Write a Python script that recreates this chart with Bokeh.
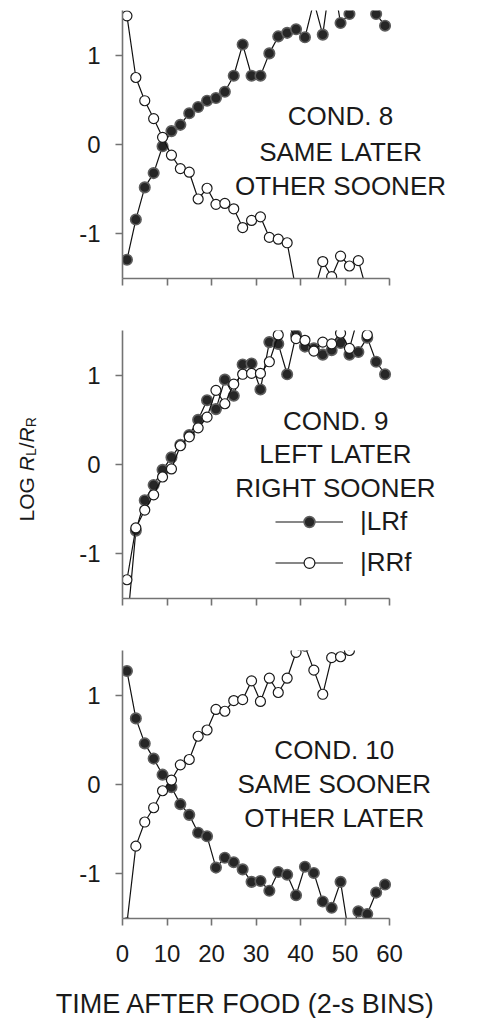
import math
from bokeh.plotting import figure
from bokeh.layouts import column, row
from bokeh.models import Range1d, FixedTicker, Label, Legend, LegendItem
from bokeh.embed import file_html
from bokeh.resources import INLINE

nan = float("nan")

# ---------------- data (log RL/RR per 2-s bin) ----------------
time_bins = [1, 3, 5, 7, 9, 11, 13, 15, 17, 19, 21, 23, 25, 27, 29,
             31, 33, 35, 37, 39, 41, 43, 45, 47, 49, 51, 53, 55, 57, 59]

cond8_lrf = [-1.29, -0.84, -0.48, -0.32, -0.02, 0.15, 0.22, 0.35, 0.42, 0.49,
             0.52, 0.59, 0.77, 1.12, 0.77, 0.77, 1.02, 1.21, 1.25, 1.29,
             1.20, 1.60, 1.23, 1.95, 1.36, 1.46, nan, nan, 1.46, 1.33]
cond8_rrf = [1.44, 0.75, 0.49, 0.29, 0.08, -0.12, -0.27, -0.31, -0.61, -0.49,
             -0.67, -0.66, -0.72, -0.93, -0.85, -0.81, -1.04, -1.06, -1.10, -1.63,
             nan, -1.66, -1.31, -1.48, -1.25, -1.36, -1.30, -1.66, nan, nan]

cond9_lrf = [-1.83, -0.74, -0.40, -0.23, -0.06, 0.08, 0.22, 0.33, 0.50, 0.72,
             0.62, 0.95, 0.77, 1.12, 1.13, 0.84, 1.37, 1.35, 1.01, 1.45,
             1.32, 1.30, 1.23, 1.28, 1.36, 1.23, 1.26, 1.42, 1.15, 1.01]
cond9_rrf = [-1.29, -0.71, -0.51, -0.34, -0.14, -0.05, 0.21, 0.31, 0.41, 0.53,
             0.83, 0.68, 0.90, 1.01, 1.02, 1.02, 1.15, 1.45, 1.58, 1.41,
             1.39, 1.27, 1.37, 1.35, 1.47, 1.30, 1.66, 1.45, nan, nan]

cond10_lrf = [1.27, 0.74, 0.46, 0.29, 0.11, -0.03, -0.22, -0.34, -0.54, -0.58,
              -0.93, -0.82, -0.87, -0.95, -1.09, -1.08, -1.19, -0.98, -1.01, -1.24,
              -0.92, -0.99, -1.31, -1.38, -1.09, -1.72, -1.42, -1.45, -1.21, -1.12]
cond10_rrf = [-1.55, -0.69, -0.42, -0.26, -0.07, 0.05, 0.22, 0.28, 0.54, 0.61,
              0.84, 0.82, 0.94, 0.95, 1.16, 0.93, 1.19, 1.03, 1.19, 1.48,
              1.55, 1.28, 1.01, 1.42, 1.43, 1.50, nan, nan, nan, nan]

panel_texts = [["COND. 8", "SAME LATER", "OTHER SOONER"],
               ["COND. 9", "LEFT LATER", "RIGHT SOONER"],
               ["COND. 10", "SAME SOONER", "OTHER LATER"]]

x_ticks = [0, 10, 20, 30, 40, 50, 60]
y_ticks = [-1, 0, 1]
y_tick_labels = {-1: "-1", 0: "0", 1: "1"}
legend_labels = ["|LRf", "|RRf"]
x_title = "TIME AFTER FOOD (2-s BINS)"

# ---------------- style / layout ----------------
FONT = "Liberation Sans"
TXT = "#1a1a1a"
AXC = "#737373"
FRAME_H = 268
LEFT_W = 60          # strip holding the rotated y title
MAIN_W = 420
X_VIEW = 80          # frame extends right of the 0-60 axis so texts are not clipped
text_x = [49.0, 47.9, 47.6]
text_y = [[0.32, -0.084, -0.466], [0.489, 0.118, -0.264], [0.388, 0.006, -0.376]]


def make_panel(lrf, rrf, texts, tx, ty, top_border, bottom_border, bottom=False):
    h = top_border + FRAME_H + bottom_border
    p = figure(width=MAIN_W, height=h, x_range=Range1d(0, X_VIEW), y_range=Range1d(-1.5, 1.5),
               output_backend="svg", toolbar_location=None,
               min_border_left=62, min_border_right=2, min_border_top=top_border,
               min_border_bottom=bottom_border)
    p.outline_line_color = None
    p.grid.visible = False
    p.background_fill_color = "white"
    p.border_fill_color = "white"

    for ax in (p.xaxis[0], p.yaxis[0]):
        ax.axis_line_color = AXC
        ax.axis_line_width = 1.6
        ax.major_tick_line_color = AXC
        ax.major_tick_line_width = 1.6
        ax.major_tick_out = 7
        ax.major_tick_in = 0
        ax.minor_tick_line_color = None
        ax.major_label_text_font = FONT
        ax.major_label_text_font_size = "24px"
        ax.major_label_text_color = TXT

    p.xaxis.bounds = (0, 60)
    p.xaxis.ticker = FixedTicker(ticks=x_ticks)
    p.yaxis.ticker = FixedTicker(ticks=y_ticks)
    p.yaxis.major_label_overrides = y_tick_labels
    p.yaxis.major_label_standoff = 15
    if bottom:
        p.xaxis.major_label_standoff = 19
    else:
        p.xaxis.major_label_overrides = {t: "" for t in x_ticks}
        p.xaxis.major_label_standoff = 0

    l1 = p.line(time_bins, lrf, line_color="#111111", line_width=1.2)
    s1 = p.scatter(time_bins, lrf, size=10.5, marker="circle", fill_color="#262626",
                   line_color="#5e5e5e", line_width=1.6)
    l2 = p.line(time_bins, rrf, line_color="#111111", line_width=1.2)
    s2 = p.scatter(time_bins, rrf, size=10, marker="circle", fill_color="white",
                   line_color="#1a1a1a", line_width=1.2)

    for txt, yy in zip(texts, ty):
        p.add_layout(Label(x=tx, y=yy, text=txt, text_align="center",
                           text_baseline="alphabetic", text_font=FONT,
                           text_font_size="26px", text_color=TXT))
    return p, (l1, s1, l2, s2)


p1, _ = make_panel(cond8_lrf, cond8_rrf, panel_texts[0], text_x[0], text_y[0], 10, 50)
p2, r2 = make_panel(cond9_lrf, cond9_rrf, panel_texts[1], text_x[1], text_y[1], 2, 50)
p3, _ = make_panel(cond10_lrf, cond10_rrf, panel_texts[2], text_x[2], text_y[2], 2, 50,
                   bottom=True)

legend = Legend(items=[LegendItem(label=legend_labels[0], renderers=[r2[0], r2[1]]),
                       LegendItem(label=legend_labels[1], renderers=[r2[2], r2[3]])],
                location=(153, 19.7), glyph_width=68, glyph_height=27, label_height=27,
                label_standoff=17, spacing=10, padding=0, margin=0,
                border_line_alpha=0, background_fill_alpha=0,
                label_text_font=FONT, label_text_font_size="26px", label_text_color=TXT)
p2.add_layout(legend)

# left strip with the rotated y title "LOG R_L/R_R" (italic R, subscripts)
total_h = p1.height + p2.height + p3.height
ylab = figure(width=LEFT_W, height=total_h, x_range=Range1d(0, LEFT_W),
              y_range=Range1d(total_h, 0), x_axis_type=None, y_axis_type=None,
              output_backend="svg", toolbar_location=None, min_border=0)
ylab.outline_line_color = None
ylab.grid.visible = False

ylab_x = 26
ylab_y = 521
pieces = [("LOG ", "normal", "21px", 0, 50.2),
          ("R", "italic", "21px", 0, 15.2),
          ("L", "normal", "14px", 4, 7.8),
          ("/", "normal", "21px", 0, 5.8),
          ("R", "italic", "21px", 0, 15.2),
          ("R", "normal", "14px", 4, 10.1)]
off = 0.0
for txt, style, size, xo, w in pieces:
    ylab.add_layout(Label(x=ylab_x, y=ylab_y, text=txt, angle=math.pi / 2,
                          text_align="left", text_baseline="alphabetic",
                          x_offset=xo, y_offset=off, text_font=FONT,
                          text_font_style=style, text_font_size=size, text_color=TXT))
    off += w

# bottom strip with the x title, centred under the whole figure
TITLE_H = 50
full_w = LEFT_W + MAIN_W
xlab = figure(width=full_w, height=TITLE_H, x_range=Range1d(0, full_w),
              y_range=Range1d(TITLE_H, 0), x_axis_type=None, y_axis_type=None,
              output_backend="svg", toolbar_location=None, min_border=0)
xlab.outline_line_color = None
xlab.grid.visible = False
xlab.add_layout(Label(x=245, y=35, text=x_title, text_align="center", text_baseline="middle",
                      text_font=FONT, text_font_size="27px", text_color=TXT))

layout = column(row(ylab, column(p1, p2, p3, spacing=0), spacing=0), xlab, spacing=0)
open("out.html", "w").write(file_html(layout, INLINE))
